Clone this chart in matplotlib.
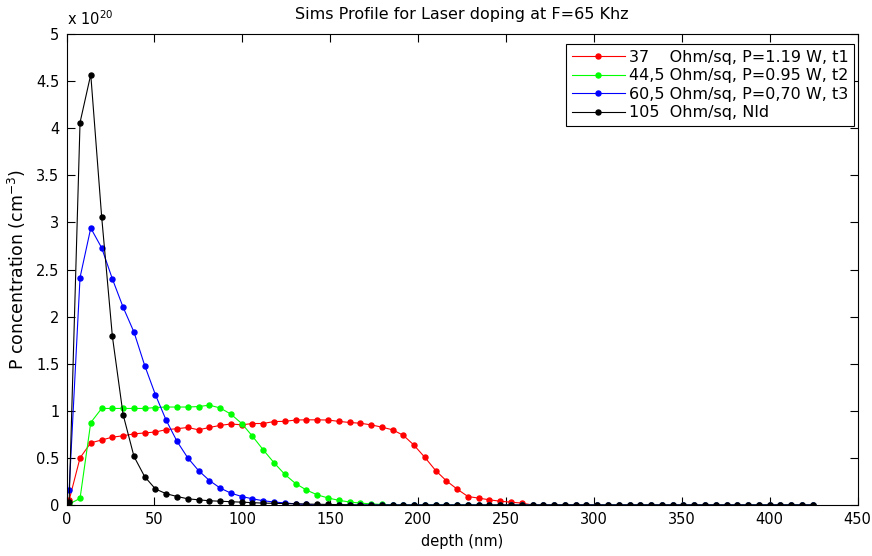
import matplotlib
matplotlib.use('Agg')
import matplotlib.pyplot as plt
from matplotlib.ticker import MultipleLocator, FuncFormatter

plt.rcParams['font.family'] = ['DejaVu Sans']
plt.rcParams['font.size'] = 10.5

SCALE = 1e20  # concentrations below are in units of 1e20 cm^-3

# SIMS depth grid (nm)
depth = [1.5, 7.7, 13.8, 20.0, 26.1, 32.2, 38.4, 44.5, 50.6, 56.7,
         62.9, 69.0, 75.1, 81.3, 87.4, 93.5, 99.7, 105.8, 111.9, 118.0,
         124.2, 130.3, 136.4, 142.6, 148.7, 154.8, 161.0, 167.1, 173.2, 179.3,
         185.5, 191.6, 197.7, 203.9, 210.0, 216.1, 222.2, 228.4, 234.5, 240.6,
         246.8, 252.9, 259.0, 265.2, 271.3, 277.4, 283.5, 289.7, 295.8, 301.9,
         308.1, 314.2, 320.3, 326.5, 332.6, 338.7, 344.8, 351.0, 357.1, 363.2,
         369.4, 375.5, 381.6, 387.7, 393.9, 400.0, 406.1, 412.3, 418.4, 424.5]

# 37 Ohm/sq, P=1.19 W, t1
red_conc = [0.05, 0.50, 0.66, 0.69, 0.72, 0.735, 0.755, 0.765, 0.775, 0.80,
            0.81, 0.823, 0.798, 0.823, 0.845, 0.86, 0.851, 0.865, 0.865, 0.886,
            0.888, 0.902, 0.904, 0.904, 0.902, 0.888, 0.876, 0.868, 0.851, 0.827,
            0.798, 0.74, 0.635, 0.505, 0.366, 0.257, 0.169, 0.09, 0.073, 0.055,
            0.04, 0.03, 0.02, 0.0, 0.0, 0.0, 0.0, 0.0, 0.0, 0.0,
            0.0, 0.0, 0.0, 0.0, 0.0, 0.0, 0.0, 0.0, 0.0, 0.0,
            0.0, 0.0, 0.0, 0.0, 0.0, 0.0, 0.0, 0.0, 0.0, 0.0]

# 44,5 Ohm/sq, P=0.95 W, t2
green_conc = [0.01, 0.07, 0.875, 1.025, 1.025, 1.025, 1.025, 1.025, 1.035, 1.04,
              1.04, 1.04, 1.045, 1.06, 1.03, 0.965, 0.865, 0.73, 0.586, 0.45,
              0.325, 0.228, 0.16, 0.108, 0.075, 0.05, 0.032, 0.02, 0.012, 0.006,
              0.0, 0.0, 0.0, 0.0, 0.0, 0.0, 0.0, 0.0, 0.0, 0.0,
              0.0, 0.0, 0.0, 0.0, 0.0, 0.0, 0.0, 0.0, 0.0, 0.0,
              0.0, 0.0, 0.0, 0.0, 0.0, 0.0, 0.0, 0.0, 0.0, 0.0,
              0.0, 0.0, 0.0, 0.0, 0.0, 0.0, 0.0, 0.0, 0.0, 0.0]

# 60,5 Ohm/sq, P=0,70 W, t3
blue_conc = [0.16, 2.415, 2.94, 2.73, 2.40, 2.10, 1.835, 1.48, 1.17, 0.90,
             0.675, 0.50, 0.366, 0.26, 0.18, 0.126, 0.09, 0.066, 0.045, 0.032,
             0.022, 0.012, 0.006, 0.0, 0.0, 0.0, 0.0, 0.0, 0.0, 0.0,
             0.0, 0.0, 0.0, 0.0, 0.0, 0.0, 0.0, 0.0, 0.0, 0.0,
             0.0, 0.0, 0.0, 0.0, 0.0, 0.0, 0.0, 0.0, 0.0, 0.0,
             0.0, 0.0, 0.0, 0.0, 0.0, 0.0, 0.0, 0.0, 0.0, 0.0,
             0.0, 0.0, 0.0, 0.0, 0.0, 0.0, 0.0, 0.0, 0.0, 0.0]

# 105 Ohm/sq, Nld
black_conc = [0.03, 4.06, 4.57, 3.06, 1.79, 0.96, 0.515, 0.30, 0.17, 0.12,
              0.09, 0.066, 0.055, 0.045, 0.04, 0.035, 0.03, 0.025, 0.02, 0.018,
              0.015, 0.012, 0.01, 0.008, 0.006, 0.004, 0.002, 0.0, 0.0, 0.0,
              0.0, 0.0, 0.0, 0.0, 0.0, 0.0, 0.0, 0.0, 0.0, 0.0,
              0.0, 0.0, 0.0, 0.0, 0.0, 0.0, 0.0, 0.0, 0.0, 0.0,
              0.0, 0.0, 0.0, 0.0, 0.0, 0.0, 0.0, 0.0, 0.0, 0.0,
              0.0, 0.0, 0.0, 0.0, 0.0, 0.0, 0.0, 0.0, 0.0, 0.0]

series = [
    (red_conc, (1, 0, 0), '37    Ohm/sq, P=1.19 W, t1'),
    (green_conc, (0, 1, 0), '44,5 Ohm/sq, P=0.95 W, t2'),
    (blue_conc, (0, 0, 1), '60,5 Ohm/sq, P=0,70 W, t3'),
    (black_conc, (0, 0, 0), '105  Ohm/sq, Nld'),
]

W, H = 872, 556
fig = plt.figure(figsize=(W / 100, H / 100), dpi=100)
ax = fig.add_axes([66.5 / W, 51 / H, (857.5 - 66.5) / W, 471 / H])

for conc, col, lab in series:
    ax.plot(depth, [c * SCALE for c in conc], '-', color=col, lw=0.8,
            marker='o', ms=3.6, mec=col, mfc=col, label=lab)

ax.set_xlim(0, 450)
ax.set_ylim(0, 5 * SCALE)
ax.xaxis.set_major_locator(MultipleLocator(50))
ax.yaxis.set_major_locator(MultipleLocator(0.5 * SCALE))
ax.yaxis.set_major_formatter(FuncFormatter(lambda v, _: '%g' % (v / SCALE)))
ax.tick_params(direction='in', length=6, width=0.8, top=True, right=True,
               labelsize=10.5, pad=5)
for sp in ax.spines.values():
    sp.set_linewidth(0.8)

ax.text(0.0, 1.012, 'x 10$^{20}$', transform=ax.transAxes, fontsize=10.5,
        ha='left', va='bottom')
ax.set_title('Sims Profile for Laser doping at F=65 Khz', fontsize=11.5, pad=11)
ax.set_xlabel('depth (nm)', fontsize=10.5, labelpad=5)
ax.set_ylabel('P concentration (cm$^{-3}$)', fontsize=12.5, labelpad=6)

# legend box pinned just inside the top-right corner
leg = ax.legend(loc='upper right', bbox_to_anchor=(854 / W, 1 - 44 / H),
                bbox_transform=fig.transFigure, borderaxespad=0,
                fontsize=11.5, fancybox=False, framealpha=1,
                edgecolor='black', handlelength=3.3, handletextpad=0.25,
                labelspacing=0.22, borderpad=0.35)
leg.get_frame().set_linewidth(0.8)

fig.savefig('out.png', dpi=100)
